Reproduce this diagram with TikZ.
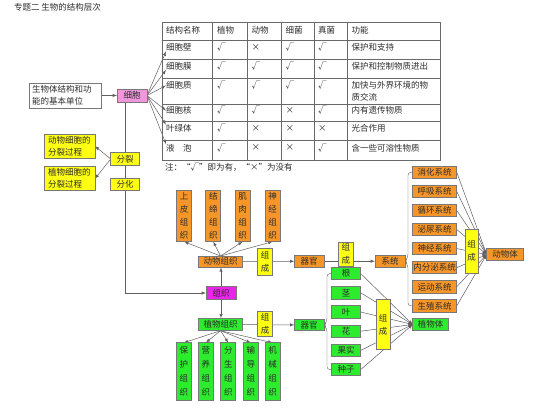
\documentclass[tikz,border=0pt]{standalone}
\usepackage{fontspec}
\setmainfont{Noto Sans CJK SC}
\usetikzlibrary{backgrounds}
\definecolor{BoxLine}{RGB}{120,120,120}
\definecolor{LinkGray}{RGB}{95,95,95}
\definecolor{TableGray}{RGB}{105,105,105}
\definecolor{TextDark}{RGB}{45,45,45}
\definecolor{BoxOrange}{RGB}{246,150,40}
\definecolor{BoxYellow}{RGB}{255,255,20}
\definecolor{BoxGreen}{RGB}{45,235,45}
\definecolor{CellPink}{RGB}{240,150,220}
\definecolor{TissueMagenta}{RGB}{235,35,235}

\begin{document}
\begin{tikzpicture}[x=1pt,y=-1pt,
  every node/.style={font=\fontsize{8.5}{10.5}\selectfont,inner sep=0pt,outer sep=0pt,text=TextDark},
  orangebox/.style={draw=BoxLine,fill=BoxOrange,line width=0.8pt},
  greenbox/.style={draw=BoxLine,fill=BoxGreen,line width=0.8pt},
  yellowbox/.style={draw=BoxLine,fill=BoxYellow,line width=0.8pt},
  upright/.style={align=center,font=\fontsize{8.5}{13}\selectfont},
  link/.style={draw=LinkGray,line width=0.5pt,-latex},
  tableline/.style={draw=TableGray,line width=0.6pt},
  celltext/.style={anchor=west}]
\useasboundingbox (0,0) rectangle (540,419);
\node [anchor=west] (Title) at (14,7.5) {专题二 生物的结构层次};
% cell and the table of its parts
\node [draw=BoxLine,fill=white,line width=0.6pt,minimum width=72,minimum height=25,text width=66,align=left,font=\fontsize{8.5}{12.4}\selectfont] (UnitBox) at (65,95.5) {生物体结构和功\\能的基本单位};
\node [draw=BoxLine,fill=CellPink,line width=0.8pt,minimum width=30,minimum height=13] (CellBox) at (132,95.5) {细胞};
\draw [tableline] (162.7,22) rectangle (440.7,160);
\foreach \x in {212.7,247.3,281.3,314,347.3} \draw [tableline] (\x,22) -- (\x,160);
\foreach \y in {40.7,59.3,78.3,104,121.5,140.7} \draw [tableline] (162.7,\y) -- (440.7,\y);
\node [celltext] (HeadName) at (166,30) {结构名称};
\node [celltext] (HeadPlant) at (217,30) {植物};
\node [celltext] (HeadAnimal) at (251.5,30) {动物};
\node [celltext] (HeadBacteria) at (285.5,30) {细菌};
\node [celltext] (HeadFungus) at (318,30) {真菌};
\node [celltext] (HeadUse) at (351.5,30) {功能};
\node [celltext] (Wall) at (166,47.5) {细胞壁};
\node [celltext] (Membrane) at (166,66) {细胞膜};
\node [celltext] (Cytoplasm) at (166,85.5) {细胞质};
\node [celltext] (Nucleus) at (166,110.5) {细胞核};
\node [celltext] (Chloroplast) at (166,128.5) {叶绿体};
\node [celltext] (Vacuole) at (166,148) {液　泡};
\foreach \r/\y/\a/\b/\c/\d in {1/47.5/√/×/√/√,2/66/√/√/√/√,3/85.5/√/√/√/√,4/110.5/√/√/×/√,5/128.5/√/×/×/×,6/148/√/×/×/√} {
  \node [celltext] (MarkP\r) at (217,\y) {\a};
  \node [celltext] (MarkA\r) at (251.5,\y) {\b};
  \node [celltext] (MarkB\r) at (285.5,\y) {\c};
  \node [celltext] (MarkF\r) at (318,\y) {\d};
}
\node [celltext] (WallUse) at (351.5,47.5) {保护和支持};
\node [celltext] (MembraneUse) at (351.5,66) {保护和控制物质进出};
\node [anchor=north west,align=left,font=\fontsize{8.5}{12}\selectfont] (CytoplasmUse) at (351.5,81) {加快与外界环境的物\\质交流};
\node [celltext] (NucleusUse) at (351.5,110.5) {内有遗传物质};
\node [celltext] (ChloroplastUse) at (351.5,128.5) {光合作用};
\node [celltext] (VacuoleUse) at (351.5,148) {含一些可溶性物质};
\node [celltext] (TableNote) at (165,167.5) {注：“√”即为有，“×”为没有};
% division and differentiation
\node [yellowbox,minimum width=28.6,minimum height=12.6] (Division) at (125,159) {分裂};
\node [yellowbox,minimum width=28.6,minimum height=11.7] (Differentiation) at (125,184.2) {分化};
\node [yellowbox,minimum width=51,minimum height=24.3,text width=43,align=left,font=\fontsize{8.5}{12}\selectfont] (AnimalDiv) at (69.5,146.2) {动物细胞的\\分裂过程};
\node [yellowbox,minimum width=51,minimum height=24.3,text width=43,align=left,font=\fontsize{8.5}{12}\selectfont] (PlantDiv) at (69.5,178.7) {植物细胞的\\分裂过程};
\node [draw=BoxLine,fill=TissueMagenta,line width=0.8pt,minimum width=30,minimum height=12.6] (Tissue) at (221,293) {组织};
% animal branch
\node [orangebox,minimum width=44.4,minimum height=11.3] (AnimalTissue) at (220.5,261.7) {动物组织};
\node [orangebox,upright,minimum width=15,minimum height=51.7] (Epithelial) at (184.2,215.8) {上\\皮\\组\\织};
\node [orangebox,upright,minimum width=15,minimum height=51.7] (Connective) at (213.3,215.8) {结\\缔\\组\\织};
\node [orangebox,upright,minimum width=15,minimum height=51.7] (Muscle) at (242.5,215.8) {肌\\肉\\组\\织};
\node [orangebox,upright,minimum width=15,minimum height=51.7] (Nervous) at (272.5,215.8) {神\\经\\组\\织};
\node [yellowbox,upright,minimum width=15.4,minimum height=26.7] (AnimalCompose) at (265,261.7) {组\\成};
\node [orangebox,minimum width=29.7,minimum height=12.3] (AnimalOrgan) at (309.2,261.2) {器官};
\node [yellowbox,upright,minimum width=15,minimum height=24] (OrganCompose) at (345.8,254.3) {组\\成};
\node [orangebox,minimum width=30,minimum height=12.3] (System) at (390,261.2) {系统};
\node [orangebox,minimum width=44,minimum height=12.3] (Digestive) at (434.7,172.2) {消化系统};
\node [orangebox,minimum width=44,minimum height=12.3] (Respiratory) at (434.7,191.3) {呼吸系统};
\node [orangebox,minimum width=44,minimum height=12.3] (Circulatory) at (434.7,210.4) {循环系统};
\node [orangebox,minimum width=44,minimum height=12.3] (Urinary) at (434.7,229.5) {泌尿系统};
\node [orangebox,minimum width=44,minimum height=12.3] (NervousSys) at (434.7,248.6) {神经系统};
\node [orangebox,minimum width=44,minimum height=12.3] (Endocrine) at (434.7,267.7) {内分泌系统};
\node [orangebox,minimum width=44,minimum height=12.3] (Motor) at (434.7,286.8) {运动系统};
\node [orangebox,minimum width=44,minimum height=12.3] (Reproductive) at (434.7,305.9) {生殖系统};
\node [yellowbox,upright,minimum width=13.3,minimum height=44] (SystemCompose) at (471.7,251) {组\\成};
\node [orangebox,minimum width=37,minimum height=12.4] (AnimalBody) at (505.2,254.5) {动物体};
% plant branch
\node [greenbox,minimum width=44.4,minimum height=12.4] (PlantTissue) at (220.5,324.5) {植物组织};
\node [greenbox,upright,minimum width=15,minimum height=58,font=\fontsize{8.5}{14}\selectfont] (Protective) at (183.8,371.7) {保\\护\\组\\织};
\node [greenbox,upright,minimum width=15,minimum height=58,font=\fontsize{8.5}{14}\selectfont] (Nutritive) at (205.8,371.7) {营\\养\\组\\织};
\node [greenbox,upright,minimum width=15,minimum height=58,font=\fontsize{8.5}{14}\selectfont] (Meristem) at (228.3,371.7) {分\\生\\组\\织};
\node [greenbox,upright,minimum width=15,minimum height=58,font=\fontsize{8.5}{14}\selectfont] (Conductive) at (250.8,371.7) {输\\导\\组\\织};
\node [greenbox,upright,minimum width=15,minimum height=58,font=\fontsize{8.5}{14}\selectfont] (Mechanical) at (272.5,371.7) {机\\械\\组\\织};
\node [yellowbox,upright,minimum width=14.6,minimum height=25] (PlantCompose) at (265,324.2) {组\\成};
\node [greenbox,minimum width=29.7,minimum height=11.4] (PlantOrgan) at (309.2,325) {器官};
\node [greenbox,minimum width=29,minimum height=12.4] (Root) at (346.2,273.6) {根};
\node [greenbox,minimum width=29,minimum height=12.4] (Stem) at (346.2,292.8) {茎};
\node [greenbox,minimum width=29,minimum height=12.4] (Leaf) at (346.2,312) {叶};
\node [greenbox,minimum width=29,minimum height=12.4] (Flower) at (346.2,331.2) {花};
\node [greenbox,minimum width=29,minimum height=12.4] (Fruit) at (346.2,350.4) {果实};
\node [greenbox,minimum width=29,minimum height=12.4] (Seed) at (346.2,369.6) {种子};
\node [yellowbox,upright,minimum width=14,minimum height=50] (BodyCompose) at (383,324.3) {组\\成};
\node [greenbox,minimum width=35.6,minimum height=12.4] (PlantBody) at (430.5,324.5) {植物体};
% connectors, behind the boxes
\begin{scope}[on background layer]
\draw [link] (UnitBox) -- (CellBox);
\draw [link] (CellBox.east) -- (Wall.south west);
\draw [link] (CellBox.east) -- (Membrane.south west);
\draw [link] (CellBox.east) -- (Cytoplasm.west);
\draw [link] (CellBox.east) -- (Nucleus.west);
\draw [link] (CellBox.east) -- (Chloroplast.north west);
\draw [link] (CellBox.east) -- (Vacuole.north west);
\draw [link] (Division.west) -- (AnimalDiv.east);
\draw [link] (Division.west) -- (PlantDiv.east);
\draw [link] (CellBox.south -| Division.center) |- (Tissue.west);
\draw [link] (Tissue.north) -- (Tissue.north |- AnimalTissue.south);
\draw [link] (Tissue.south) -- (Tissue.south |- PlantTissue.north);
\draw [link] (AnimalTissue.north) -- (Epithelial.south);
\draw [link] (AnimalTissue.north) -- (Connective.south);
\draw [link] (AnimalTissue.north) -- (Muscle.south);
\draw [link] (AnimalTissue.north) -- (Nervous.south);
\draw [link] (AnimalTissue) -- (AnimalOrgan);
\draw [link] (AnimalOrgan) -- (System);
\draw [draw=LinkGray,rounded corners=3] (Digestive.west) -| (408,257) -- (System.east) -- (408,265.4) |- (Reproductive.west);
\foreach \s in {Digestive,Respiratory,Circulatory,Urinary,NervousSys,Endocrine,Motor,Reproductive}
  \draw [link] (\s.east) -- (AnimalBody.west);
\draw [link] (PlantTissue.south) -- (Protective.north);
\draw [link] (PlantTissue.south) -- (Nutritive.north);
\draw [link] (PlantTissue.south) -- (Meristem.north);
\draw [link] (PlantTissue.south) -- (Conductive.north);
\draw [link] (PlantTissue.south) -- (Mechanical.north);
\draw [link] (PlantTissue) -- (PlantOrgan);
\draw [draw=LinkGray,rounded corners=3] (Root.west) -| (327,321) -- (PlantOrgan.east) -- (327,329) |- (Seed.west);
\foreach \o in {Root,Stem,Leaf,Flower,Fruit,Seed}
  \draw [link] (\o.east) -- (PlantBody.west);
\end{scope}
\end{tikzpicture}
\end{document}
